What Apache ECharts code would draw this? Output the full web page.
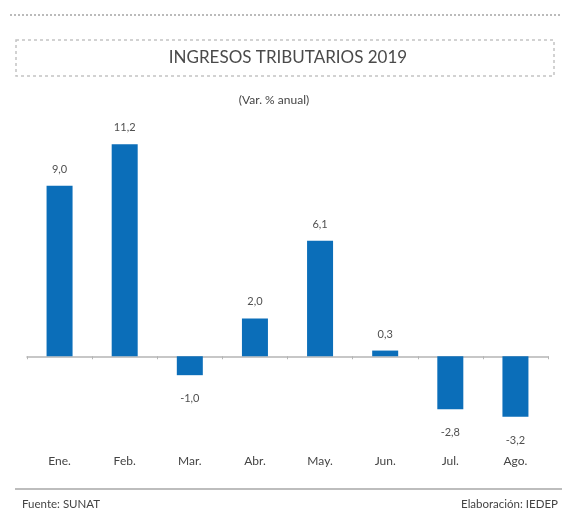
<!DOCTYPE html>
<html>
<head>
<meta charset="utf-8">
<script src="https://cdn.jsdelivr.net/npm/echarts@6/dist/echarts.min.js"></script>
<style>
  html, body { margin: 0; padding: 0; background: #fff; }
  #chart { width: 565px; height: 519px; }
</style>
</head>
<body>
<div id="chart"></div>
<script>
// datos: variación % anual de ingresos tributarios 2019
const meses = ["Ene.", "Feb.", "Mar.", "Abr.", "May.", "Jun.", "Jul.", "Ago."];
const variacion = [9.0, 11.2, -1.0, 2.0, 6.1, 0.3, -2.8, -3.2];
const titulo = "INGRESOS TRIBUTARIOS 2019";
const subtitulo = "(Var. % anual)";
const fuente = "Fuente: SUNAT";
const elaboracion = "Elaboración: IEDEP";

const azul = "#0b6eb9";
const gris = "#505050";

let myChart = echarts.init(document.getElementById("chart"));

const fmt = v => v.toFixed(1).replace(".", ",");

myChart.setOption({
    animation: false,
    textStyle: { fontFamily: "Lato" },
    grid: { left: 27, right: 17, top: 129, bottom: 87 },
    xAxis: [
        {
            type: "category",
            data: meses,
            axisLine: { onZero: true, lineStyle: { color: "#b5b5b5", width: 1.5 } },
            axisTick: { show: true, length: 3, lineStyle: { color: "#b5b5b5" } },
            axisLabel: { show: false }
        },
        {
            type: "category",
            data: meses,
            position: "bottom",
            axisLine: { show: false, onZero: false },
            axisTick: { show: false },
            axisLabel: { color: "#444", fontSize: 12, margin: 23 }
        }
    ],
    yAxis: {
        type: "value",
        min: -4,
        max: 12,
        interval: 2,
        show: false,
        splitLine: { show: false }
    },
    graphic: [
        // línea punteada superior
        {
            type: "line",
            shape: { x1: 10, y1: 15, x2: 562, y2: 15 },
            style: { stroke: "#bbb", lineWidth: 2, lineDash: [2, 2] }
        },
        // recuadro del título
        {
            type: "rect",
            shape: { x: 16, y: 40, width: 538, height: 36 },
            style: { fill: "none", stroke: "#c4c4c4", lineWidth: 1.5, lineDash: [3, 3] }
        },
        {
            type: "text",
            x: 288, y: 58,
            style: {
                text: titulo, fill: "#4a4a4a", font: "17px Lato",
                align: "center", verticalAlign: "middle"
            }
        },
        {
            type: "text",
            x: 274, y: 100,
            style: {
                text: subtitulo, fill: "#444", font: "12px Lato",
                align: "center", verticalAlign: "middle"
            }
        },
        // línea inferior y notas
        {
            type: "line",
            shape: { x1: 15, y1: 489, x2: 562, y2: 489 },
            style: { stroke: "#bdbdbd", lineWidth: 2 }
        },
        {
            type: "text",
            x: 22, y: 504,
            style: { text: fuente, fill: "#444", font: "11.5px Lato", align: "left", verticalAlign: "middle" }
        },
        {
            type: "text",
            x: 558, y: 504,
            style: { text: elaboracion, fill: "#444", font: "11.5px Lato", align: "right", verticalAlign: "middle" }
        }
    ],
    series: [
        {
            name: "Var. % anual",
            type: "bar",
            xAxisIndex: 0,
            barWidth: 26,
            itemStyle: { color: azul },
            data: variacion.map(v => ({
                value: v,
                label: {
                    show: true,
                    position: v >= 0 ? "top" : "bottom",
                    distance: v >= 0 ? 11 : 18,
                    formatter: p => fmt(p.value),
                    color: gris,
                    fontSize: 11
                }
            }))
        }
    ]
});
</script>
</body>
</html>
